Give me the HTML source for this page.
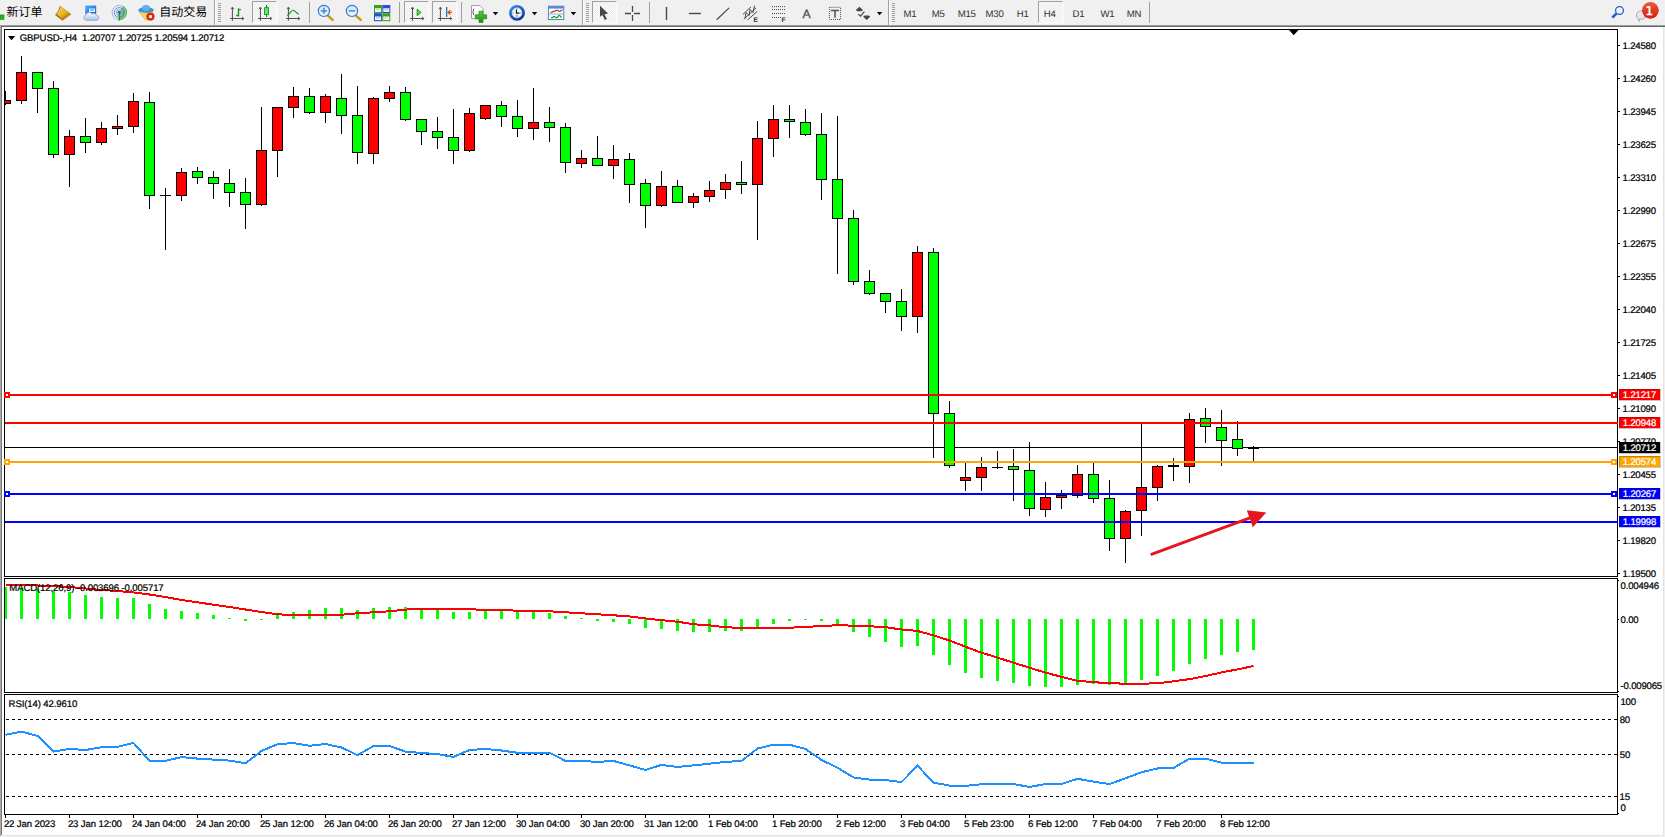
<!DOCTYPE html>
<html><head><meta charset="utf-8"><title>GBPUSD-,H4</title>
<style>
html,body{margin:0;padding:0;background:#fff}
body{text-rendering:geometricPrecision;width:1665px;height:837px;position:relative;overflow:hidden;font-family:"Liberation Sans","Noto Sans CJK SC",sans-serif;color:#000}
.cn{position:absolute;top:4.4px;font-size:12px;line-height:16px;white-space:nowrap;color:#000}
.tf{position:absolute;top:9px;font-size:9.6px;letter-spacing:-0.25px;line-height:12px;color:#303030;white-space:nowrap}
svg{position:absolute;left:0;top:0}
</style></head><body>

<svg width="1665" height="837" viewBox="0 0 1665 837" shape-rendering="crispEdges">
<rect x="0" y="0" width="1665" height="25" fill="#f0f0f0"/>
<rect x="0" y="25" width="1665" height="1" fill="#a0a0a0"/>
<rect x="0" y="26" width="1665" height="1" fill="#696969"/>
<rect x="0" y="26" width="1" height="810" fill="#a8a8a8"/>
<rect x="1" y="27" width="1" height="808" fill="#787878"/>
<rect x="1663" y="27" width="1" height="809" fill="#e3e3e3"/>
<rect x="1664" y="27" width="1" height="810" fill="#f0f0f0"/>
<rect x="2" y="835" width="1662" height="1" fill="#e3e3e3"/>
<rect x="0" y="836" width="1665" height="1" fill="#f0f0f0"/>
<rect x="4" y="29" width="1614" height="1" fill="#000"/>
<rect x="4" y="29" width="1" height="548" fill="#000"/>
<rect x="4" y="576" width="1614" height="1" fill="#000"/>
<rect x="1617" y="29" width="1" height="548" fill="#000"/>
<rect x="4" y="578" width="1614" height="1" fill="#000"/>
<rect x="4" y="578" width="1" height="115" fill="#000"/>
<rect x="4" y="692" width="1614" height="1" fill="#000"/>
<rect x="1617" y="578" width="1" height="115" fill="#000"/>
<rect x="4" y="694" width="1614" height="1" fill="#000"/>
<rect x="4" y="694" width="1" height="121" fill="#000"/>
<rect x="4" y="814" width="1614" height="1" fill="#000"/>
<rect x="1617" y="694" width="1" height="121" fill="#000"/>
<polygon points="1289,30 1298.5,30 1293.7,35.3" fill="#000" shape-rendering="auto"/>
<polygon points="8,36 15.2,36 11.6,40.2" fill="#000" shape-rendering="auto"/>
<rect x="1618" y="45" width="2" height="1" fill="#000"/>
<rect x="1618" y="78" width="2" height="1" fill="#000"/>
<rect x="1618" y="111" width="2" height="1" fill="#000"/>
<rect x="1618" y="144" width="2" height="1" fill="#000"/>
<rect x="1618" y="177" width="2" height="1" fill="#000"/>
<rect x="1618" y="210" width="2" height="1" fill="#000"/>
<rect x="1618" y="243" width="2" height="1" fill="#000"/>
<rect x="1618" y="276" width="2" height="1" fill="#000"/>
<rect x="1618" y="309" width="2" height="1" fill="#000"/>
<rect x="1618" y="342" width="2" height="1" fill="#000"/>
<rect x="1618" y="375" width="2" height="1" fill="#000"/>
<rect x="1618" y="408" width="2" height="1" fill="#000"/>
<rect x="1618" y="441" width="2" height="1" fill="#000"/>
<rect x="1618" y="474" width="2" height="1" fill="#000"/>
<rect x="1618" y="507" width="2" height="1" fill="#000"/>
<rect x="1618" y="540" width="2" height="1" fill="#000"/>
<rect x="1618" y="573" width="2" height="1" fill="#000"/>
<rect x="1618" y="580" width="1" height="1" fill="#000"/>
<rect x="1618" y="619" width="1" height="1" fill="#000"/>
<rect x="1618" y="691" width="1" height="1" fill="#000"/>
<rect x="1618" y="696" width="1" height="1" fill="#000"/>
<rect x="1618" y="813" width="1" height="1" fill="#000"/>
<rect x="5" y="815" width="1" height="3" fill="#000"/>
<rect x="69" y="815" width="1" height="3" fill="#000"/>
<rect x="133" y="815" width="1" height="3" fill="#000"/>
<rect x="197" y="815" width="1" height="3" fill="#000"/>
<rect x="261" y="815" width="1" height="3" fill="#000"/>
<rect x="325" y="815" width="1" height="3" fill="#000"/>
<rect x="389" y="815" width="1" height="3" fill="#000"/>
<rect x="453" y="815" width="1" height="3" fill="#000"/>
<rect x="517" y="815" width="1" height="3" fill="#000"/>
<rect x="581" y="815" width="1" height="3" fill="#000"/>
<rect x="645" y="815" width="1" height="3" fill="#000"/>
<rect x="709" y="815" width="1" height="3" fill="#000"/>
<rect x="773" y="815" width="1" height="3" fill="#000"/>
<rect x="837" y="815" width="1" height="3" fill="#000"/>
<rect x="901" y="815" width="1" height="3" fill="#000"/>
<rect x="965" y="815" width="1" height="3" fill="#000"/>
<rect x="1029" y="815" width="1" height="3" fill="#000"/>
<rect x="1093" y="815" width="1" height="3" fill="#000"/>
<rect x="1157" y="815" width="1" height="3" fill="#000"/>
<rect x="1221" y="815" width="1" height="3" fill="#000"/>
<line x1="6" y1="719.5" x2="1617" y2="719.5" stroke="#000" stroke-width="1" stroke-dasharray="3,3"/>
<line x1="6" y1="754.5" x2="1617" y2="754.5" stroke="#000" stroke-width="1" stroke-dasharray="3,3"/>
<line x1="6" y1="796.5" x2="1617" y2="796.5" stroke="#000" stroke-width="1" stroke-dasharray="3,3"/>
<clipPath id="cp"><rect x="5" y="30" width="1612" height="546"/></clipPath>
<g clip-path="url(#cp)">
<rect x="5" y="447" width="1612" height="1" fill="#000"/>
<rect x="5" y="91" width="1" height="14" fill="#000"/>
<rect x="0" y="100" width="11" height="4" fill="#000"/>
<rect x="1" y="101" width="9" height="2" fill="#ff0000"/>
<rect x="21" y="56" width="1" height="48" fill="#000"/>
<rect x="16" y="72" width="11" height="29" fill="#000"/>
<rect x="17" y="73" width="9" height="27" fill="#ff0000"/>
<rect x="37" y="72" width="1" height="41" fill="#000"/>
<rect x="32" y="72" width="11" height="17" fill="#000"/>
<rect x="33" y="73" width="9" height="15" fill="#00ff00"/>
<rect x="53" y="81" width="1" height="77" fill="#000"/>
<rect x="48" y="88" width="11" height="67" fill="#000"/>
<rect x="49" y="89" width="9" height="65" fill="#00ff00"/>
<rect x="69" y="130" width="1" height="57" fill="#000"/>
<rect x="64" y="136" width="11" height="19" fill="#000"/>
<rect x="65" y="137" width="9" height="17" fill="#ff0000"/>
<rect x="85" y="118" width="1" height="35" fill="#000"/>
<rect x="80" y="136" width="11" height="7" fill="#000"/>
<rect x="81" y="137" width="9" height="5" fill="#00ff00"/>
<rect x="101" y="122" width="1" height="23" fill="#000"/>
<rect x="96" y="128" width="11" height="15" fill="#000"/>
<rect x="97" y="129" width="9" height="13" fill="#ff0000"/>
<rect x="117" y="115" width="1" height="20" fill="#000"/>
<rect x="112" y="126" width="11" height="3" fill="#000"/>
<rect x="113" y="127" width="9" height="1" fill="#ff0000"/>
<rect x="133" y="93" width="1" height="40" fill="#000"/>
<rect x="128" y="101" width="11" height="26" fill="#000"/>
<rect x="129" y="102" width="9" height="24" fill="#ff0000"/>
<rect x="149" y="92" width="1" height="117" fill="#000"/>
<rect x="144" y="102" width="11" height="94" fill="#000"/>
<rect x="145" y="103" width="9" height="92" fill="#00ff00"/>
<rect x="165" y="188" width="1" height="62" fill="#000"/>
<rect x="160" y="195" width="11" height="1" fill="#000"/>
<rect x="181" y="168" width="1" height="33" fill="#000"/>
<rect x="176" y="172" width="11" height="24" fill="#000"/>
<rect x="177" y="173" width="9" height="22" fill="#ff0000"/>
<rect x="197" y="167" width="1" height="17" fill="#000"/>
<rect x="192" y="171" width="11" height="7" fill="#000"/>
<rect x="193" y="172" width="9" height="5" fill="#00ff00"/>
<rect x="213" y="171" width="1" height="28" fill="#000"/>
<rect x="208" y="177" width="11" height="7" fill="#000"/>
<rect x="209" y="178" width="9" height="5" fill="#00ff00"/>
<rect x="229" y="169" width="1" height="38" fill="#000"/>
<rect x="224" y="183" width="11" height="10" fill="#000"/>
<rect x="225" y="184" width="9" height="8" fill="#00ff00"/>
<rect x="245" y="178" width="1" height="51" fill="#000"/>
<rect x="240" y="192" width="11" height="13" fill="#000"/>
<rect x="241" y="193" width="9" height="11" fill="#00ff00"/>
<rect x="261" y="107" width="1" height="99" fill="#000"/>
<rect x="256" y="150" width="11" height="55" fill="#000"/>
<rect x="257" y="151" width="9" height="53" fill="#ff0000"/>
<rect x="277" y="107" width="1" height="70" fill="#000"/>
<rect x="272" y="107" width="11" height="44" fill="#000"/>
<rect x="273" y="108" width="9" height="42" fill="#ff0000"/>
<rect x="293" y="87" width="1" height="31" fill="#000"/>
<rect x="288" y="96" width="11" height="12" fill="#000"/>
<rect x="289" y="97" width="9" height="10" fill="#ff0000"/>
<rect x="309" y="88" width="1" height="26" fill="#000"/>
<rect x="304" y="96" width="11" height="17" fill="#000"/>
<rect x="305" y="97" width="9" height="15" fill="#00ff00"/>
<rect x="325" y="94" width="1" height="29" fill="#000"/>
<rect x="320" y="96" width="11" height="17" fill="#000"/>
<rect x="321" y="97" width="9" height="15" fill="#ff0000"/>
<rect x="341" y="74" width="1" height="60" fill="#000"/>
<rect x="336" y="98" width="11" height="18" fill="#000"/>
<rect x="337" y="99" width="9" height="16" fill="#00ff00"/>
<rect x="357" y="86" width="1" height="78" fill="#000"/>
<rect x="352" y="115" width="11" height="38" fill="#000"/>
<rect x="353" y="116" width="9" height="36" fill="#00ff00"/>
<rect x="373" y="97" width="1" height="67" fill="#000"/>
<rect x="368" y="98" width="11" height="56" fill="#000"/>
<rect x="369" y="99" width="9" height="54" fill="#ff0000"/>
<rect x="389" y="86" width="1" height="16" fill="#000"/>
<rect x="384" y="92" width="11" height="7" fill="#000"/>
<rect x="385" y="93" width="9" height="5" fill="#ff0000"/>
<rect x="405" y="87" width="1" height="34" fill="#000"/>
<rect x="400" y="92" width="11" height="28" fill="#000"/>
<rect x="401" y="93" width="9" height="26" fill="#00ff00"/>
<rect x="421" y="119" width="1" height="26" fill="#000"/>
<rect x="416" y="119" width="11" height="13" fill="#000"/>
<rect x="417" y="120" width="9" height="11" fill="#00ff00"/>
<rect x="437" y="117" width="1" height="32" fill="#000"/>
<rect x="432" y="131" width="11" height="7" fill="#000"/>
<rect x="433" y="132" width="9" height="5" fill="#00ff00"/>
<rect x="453" y="109" width="1" height="55" fill="#000"/>
<rect x="448" y="137" width="11" height="14" fill="#000"/>
<rect x="449" y="138" width="9" height="12" fill="#00ff00"/>
<rect x="469" y="108" width="1" height="44" fill="#000"/>
<rect x="464" y="113" width="11" height="38" fill="#000"/>
<rect x="465" y="114" width="9" height="36" fill="#ff0000"/>
<rect x="485" y="105" width="1" height="15" fill="#000"/>
<rect x="480" y="105" width="11" height="14" fill="#000"/>
<rect x="481" y="106" width="9" height="12" fill="#ff0000"/>
<rect x="501" y="101" width="1" height="26" fill="#000"/>
<rect x="496" y="105" width="11" height="12" fill="#000"/>
<rect x="497" y="106" width="9" height="10" fill="#00ff00"/>
<rect x="517" y="100" width="1" height="37" fill="#000"/>
<rect x="512" y="116" width="11" height="13" fill="#000"/>
<rect x="513" y="117" width="9" height="11" fill="#00ff00"/>
<rect x="533" y="88" width="1" height="52" fill="#000"/>
<rect x="528" y="122" width="11" height="7" fill="#000"/>
<rect x="529" y="123" width="9" height="5" fill="#ff0000"/>
<rect x="549" y="107" width="1" height="35" fill="#000"/>
<rect x="544" y="122" width="11" height="6" fill="#000"/>
<rect x="545" y="123" width="9" height="4" fill="#00ff00"/>
<rect x="565" y="123" width="1" height="50" fill="#000"/>
<rect x="560" y="127" width="11" height="36" fill="#000"/>
<rect x="561" y="128" width="9" height="34" fill="#00ff00"/>
<rect x="581" y="150" width="1" height="18" fill="#000"/>
<rect x="576" y="158" width="11" height="6" fill="#000"/>
<rect x="577" y="159" width="9" height="4" fill="#ff0000"/>
<rect x="597" y="136" width="1" height="30" fill="#000"/>
<rect x="592" y="158" width="11" height="8" fill="#000"/>
<rect x="593" y="159" width="9" height="6" fill="#00ff00"/>
<rect x="613" y="145" width="1" height="34" fill="#000"/>
<rect x="608" y="159" width="11" height="7" fill="#000"/>
<rect x="609" y="160" width="9" height="5" fill="#ff0000"/>
<rect x="629" y="153" width="1" height="50" fill="#000"/>
<rect x="624" y="159" width="11" height="26" fill="#000"/>
<rect x="625" y="160" width="9" height="24" fill="#00ff00"/>
<rect x="645" y="179" width="1" height="49" fill="#000"/>
<rect x="640" y="183" width="11" height="23" fill="#000"/>
<rect x="641" y="184" width="9" height="21" fill="#00ff00"/>
<rect x="661" y="171" width="1" height="36" fill="#000"/>
<rect x="656" y="186" width="11" height="20" fill="#000"/>
<rect x="657" y="187" width="9" height="18" fill="#ff0000"/>
<rect x="677" y="180" width="1" height="23" fill="#000"/>
<rect x="672" y="186" width="11" height="17" fill="#000"/>
<rect x="673" y="187" width="9" height="15" fill="#00ff00"/>
<rect x="693" y="193" width="1" height="15" fill="#000"/>
<rect x="688" y="196" width="11" height="7" fill="#000"/>
<rect x="689" y="197" width="9" height="5" fill="#ff0000"/>
<rect x="709" y="181" width="1" height="21" fill="#000"/>
<rect x="704" y="190" width="11" height="7" fill="#000"/>
<rect x="705" y="191" width="9" height="5" fill="#ff0000"/>
<rect x="725" y="174" width="1" height="25" fill="#000"/>
<rect x="720" y="182" width="11" height="8" fill="#000"/>
<rect x="721" y="183" width="9" height="6" fill="#ff0000"/>
<rect x="741" y="161" width="1" height="33" fill="#000"/>
<rect x="736" y="182" width="11" height="3" fill="#000"/>
<rect x="737" y="183" width="9" height="1" fill="#00ff00"/>
<rect x="757" y="121" width="1" height="119" fill="#000"/>
<rect x="752" y="138" width="11" height="47" fill="#000"/>
<rect x="753" y="139" width="9" height="45" fill="#ff0000"/>
<rect x="773" y="105" width="1" height="52" fill="#000"/>
<rect x="768" y="119" width="11" height="20" fill="#000"/>
<rect x="769" y="120" width="9" height="18" fill="#ff0000"/>
<rect x="789" y="105" width="1" height="33" fill="#000"/>
<rect x="784" y="119" width="11" height="3" fill="#000"/>
<rect x="785" y="120" width="9" height="1" fill="#00ff00"/>
<rect x="805" y="109" width="1" height="27" fill="#000"/>
<rect x="800" y="122" width="11" height="13" fill="#000"/>
<rect x="801" y="123" width="9" height="11" fill="#00ff00"/>
<rect x="821" y="113" width="1" height="87" fill="#000"/>
<rect x="816" y="134" width="11" height="46" fill="#000"/>
<rect x="817" y="135" width="9" height="44" fill="#00ff00"/>
<rect x="837" y="116" width="1" height="158" fill="#000"/>
<rect x="832" y="179" width="11" height="40" fill="#000"/>
<rect x="833" y="180" width="9" height="38" fill="#00ff00"/>
<rect x="853" y="210" width="1" height="75" fill="#000"/>
<rect x="848" y="218" width="11" height="64" fill="#000"/>
<rect x="849" y="219" width="9" height="62" fill="#00ff00"/>
<rect x="869" y="270" width="1" height="25" fill="#000"/>
<rect x="864" y="281" width="11" height="13" fill="#000"/>
<rect x="865" y="282" width="9" height="11" fill="#00ff00"/>
<rect x="885" y="293" width="1" height="20" fill="#000"/>
<rect x="880" y="293" width="11" height="9" fill="#000"/>
<rect x="881" y="294" width="9" height="7" fill="#00ff00"/>
<rect x="901" y="289" width="1" height="42" fill="#000"/>
<rect x="896" y="301" width="11" height="16" fill="#000"/>
<rect x="897" y="302" width="9" height="14" fill="#00ff00"/>
<rect x="917" y="246" width="1" height="87" fill="#000"/>
<rect x="912" y="252" width="11" height="65" fill="#000"/>
<rect x="913" y="253" width="9" height="63" fill="#ff0000"/>
<rect x="933" y="248" width="1" height="210" fill="#000"/>
<rect x="928" y="252" width="11" height="162" fill="#000"/>
<rect x="929" y="253" width="9" height="160" fill="#00ff00"/>
<rect x="949" y="401" width="1" height="67" fill="#000"/>
<rect x="944" y="413" width="11" height="53" fill="#000"/>
<rect x="945" y="414" width="9" height="51" fill="#00ff00"/>
<rect x="965" y="463" width="1" height="28" fill="#000"/>
<rect x="960" y="477" width="11" height="4" fill="#000"/>
<rect x="961" y="478" width="9" height="2" fill="#ff0000"/>
<rect x="981" y="457" width="1" height="34" fill="#000"/>
<rect x="976" y="467" width="11" height="11" fill="#000"/>
<rect x="977" y="468" width="9" height="9" fill="#ff0000"/>
<rect x="997" y="451" width="1" height="18" fill="#000"/>
<rect x="992" y="467" width="11" height="1" fill="#000"/>
<rect x="1013" y="449" width="1" height="52" fill="#000"/>
<rect x="1008" y="466" width="11" height="4" fill="#000"/>
<rect x="1009" y="467" width="9" height="2" fill="#00ff00"/>
<rect x="1029" y="442" width="1" height="74" fill="#000"/>
<rect x="1024" y="470" width="11" height="39" fill="#000"/>
<rect x="1025" y="471" width="9" height="37" fill="#00ff00"/>
<rect x="1045" y="482" width="1" height="35" fill="#000"/>
<rect x="1040" y="497" width="11" height="13" fill="#000"/>
<rect x="1041" y="498" width="9" height="11" fill="#ff0000"/>
<rect x="1061" y="490" width="1" height="19" fill="#000"/>
<rect x="1056" y="495" width="11" height="3" fill="#000"/>
<rect x="1057" y="496" width="9" height="1" fill="#ff0000"/>
<rect x="1077" y="465" width="1" height="33" fill="#000"/>
<rect x="1072" y="474" width="11" height="22" fill="#000"/>
<rect x="1073" y="475" width="9" height="20" fill="#ff0000"/>
<rect x="1093" y="463" width="1" height="40" fill="#000"/>
<rect x="1088" y="474" width="11" height="25" fill="#000"/>
<rect x="1089" y="475" width="9" height="23" fill="#00ff00"/>
<rect x="1109" y="480" width="1" height="71" fill="#000"/>
<rect x="1104" y="498" width="11" height="41" fill="#000"/>
<rect x="1105" y="499" width="9" height="39" fill="#00ff00"/>
<rect x="1125" y="510" width="1" height="53" fill="#000"/>
<rect x="1120" y="511" width="11" height="28" fill="#000"/>
<rect x="1121" y="512" width="9" height="26" fill="#ff0000"/>
<rect x="1141" y="424" width="1" height="112" fill="#000"/>
<rect x="1136" y="487" width="11" height="24" fill="#000"/>
<rect x="1137" y="488" width="9" height="22" fill="#ff0000"/>
<rect x="1157" y="465" width="1" height="36" fill="#000"/>
<rect x="1152" y="466" width="11" height="22" fill="#000"/>
<rect x="1153" y="467" width="9" height="20" fill="#ff0000"/>
<rect x="1173" y="458" width="1" height="23" fill="#000"/>
<rect x="1168" y="465" width="11" height="2" fill="#000"/>
<rect x="1189" y="413" width="1" height="70" fill="#000"/>
<rect x="1184" y="419" width="11" height="48" fill="#000"/>
<rect x="1185" y="420" width="9" height="46" fill="#ff0000"/>
<rect x="1205" y="408" width="1" height="35" fill="#000"/>
<rect x="1200" y="418" width="11" height="9" fill="#000"/>
<rect x="1201" y="419" width="9" height="7" fill="#00ff00"/>
<rect x="1221" y="410" width="1" height="56" fill="#000"/>
<rect x="1216" y="427" width="11" height="14" fill="#000"/>
<rect x="1217" y="428" width="9" height="12" fill="#00ff00"/>
<rect x="1237" y="421" width="1" height="35" fill="#000"/>
<rect x="1232" y="439" width="11" height="10" fill="#000"/>
<rect x="1233" y="440" width="9" height="8" fill="#00ff00"/>
<rect x="1253" y="446" width="1" height="15" fill="#000"/>
<rect x="1248" y="448" width="11" height="1" fill="#000"/>
</g>
<rect x="5" y="394" width="1612" height="2" fill="#ff0000"/>
<rect x="5" y="422" width="1613" height="2" fill="#ff0000"/>
<rect x="5" y="461" width="1612" height="2" fill="#ffa500"/>
<rect x="5" y="493" width="1612" height="2" fill="#0000ff"/>
<rect x="5" y="521" width="1613" height="2" fill="#0000ff"/>
<rect x="4" y="392" width="6" height="6" fill="#ff0000"/>
<rect x="6" y="394" width="2" height="2" fill="#fff"/>
<rect x="1611" y="392" width="6" height="6" fill="#ff0000"/>
<rect x="1613" y="394" width="2" height="2" fill="#fff"/>
<rect x="4" y="459" width="6" height="6" fill="#ffa500"/>
<rect x="6" y="461" width="2" height="2" fill="#fff"/>
<rect x="1611" y="459" width="6" height="6" fill="#ffa500"/>
<rect x="1613" y="461" width="2" height="2" fill="#fff"/>
<rect x="4" y="491" width="6" height="6" fill="#0000ff"/>
<rect x="6" y="493" width="2" height="2" fill="#fff"/>
<rect x="1611" y="491" width="6" height="6" fill="#0000ff"/>
<rect x="1613" y="493" width="2" height="2" fill="#fff"/>
<g shape-rendering="auto"><line x1="1150.7" y1="554.6" x2="1252" y2="517.2" stroke="#e8141e" stroke-width="2.9"/><polygon points="1246.8,510.2 1266.3,512.5 1252.8,527.2" fill="#e8141e"/></g>
<clipPath id="cm"><rect x="5" y="579" width="1612" height="113"/></clipPath><g clip-path="url(#cm)">
<rect x="4" y="587" width="3" height="32" fill="#00ff00"/>
<rect x="20" y="588" width="3" height="31" fill="#00ff00"/>
<rect x="36" y="589" width="3" height="30" fill="#00ff00"/>
<rect x="52" y="591" width="3" height="28" fill="#00ff00"/>
<rect x="68" y="592" width="3" height="27" fill="#00ff00"/>
<rect x="84" y="595" width="3" height="24" fill="#00ff00"/>
<rect x="100" y="597" width="3" height="22" fill="#00ff00"/>
<rect x="116" y="598" width="3" height="21" fill="#00ff00"/>
<rect x="132" y="598" width="3" height="21" fill="#00ff00"/>
<rect x="148" y="604" width="3" height="15" fill="#00ff00"/>
<rect x="164" y="609" width="3" height="10" fill="#00ff00"/>
<rect x="180" y="611" width="3" height="8" fill="#00ff00"/>
<rect x="196" y="613" width="3" height="6" fill="#00ff00"/>
<rect x="212" y="615" width="3" height="4" fill="#00ff00"/>
<rect x="228" y="618" width="3" height="1" fill="#00ff00"/>
<rect x="244" y="619" width="3" height="2" fill="#00ff00"/>
<rect x="260" y="619" width="3" height="1" fill="#00ff00"/>
<rect x="276" y="614" width="3" height="5" fill="#00ff00"/>
<rect x="292" y="612" width="3" height="7" fill="#00ff00"/>
<rect x="308" y="610" width="3" height="9" fill="#00ff00"/>
<rect x="324" y="608" width="3" height="11" fill="#00ff00"/>
<rect x="340" y="608" width="3" height="11" fill="#00ff00"/>
<rect x="356" y="610" width="3" height="9" fill="#00ff00"/>
<rect x="372" y="608" width="3" height="11" fill="#00ff00"/>
<rect x="388" y="607" width="3" height="12" fill="#00ff00"/>
<rect x="404" y="607" width="3" height="12" fill="#00ff00"/>
<rect x="420" y="609" width="3" height="10" fill="#00ff00"/>
<rect x="436" y="610" width="3" height="9" fill="#00ff00"/>
<rect x="452" y="612" width="3" height="7" fill="#00ff00"/>
<rect x="468" y="612" width="3" height="7" fill="#00ff00"/>
<rect x="484" y="610" width="3" height="9" fill="#00ff00"/>
<rect x="500" y="610" width="3" height="9" fill="#00ff00"/>
<rect x="516" y="612" width="3" height="7" fill="#00ff00"/>
<rect x="532" y="612" width="3" height="7" fill="#00ff00"/>
<rect x="548" y="613" width="3" height="6" fill="#00ff00"/>
<rect x="564" y="616" width="3" height="3" fill="#00ff00"/>
<rect x="580" y="618" width="3" height="1" fill="#00ff00"/>
<rect x="596" y="619" width="3" height="2" fill="#00ff00"/>
<rect x="612" y="619" width="3" height="3" fill="#00ff00"/>
<rect x="628" y="619" width="3" height="5" fill="#00ff00"/>
<rect x="644" y="619" width="3" height="9" fill="#00ff00"/>
<rect x="660" y="619" width="3" height="10" fill="#00ff00"/>
<rect x="676" y="619" width="3" height="12" fill="#00ff00"/>
<rect x="692" y="619" width="3" height="13" fill="#00ff00"/>
<rect x="708" y="619" width="3" height="13" fill="#00ff00"/>
<rect x="724" y="619" width="3" height="12" fill="#00ff00"/>
<rect x="740" y="619" width="3" height="12" fill="#00ff00"/>
<rect x="756" y="619" width="3" height="8" fill="#00ff00"/>
<rect x="772" y="619" width="3" height="5" fill="#00ff00"/>
<rect x="788" y="619" width="3" height="2" fill="#00ff00"/>
<rect x="804" y="619" width="3" height="1" fill="#00ff00"/>
<rect x="820" y="619" width="3" height="2" fill="#00ff00"/>
<rect x="836" y="619" width="3" height="6" fill="#00ff00"/>
<rect x="852" y="619" width="3" height="13" fill="#00ff00"/>
<rect x="868" y="619" width="3" height="18" fill="#00ff00"/>
<rect x="884" y="619" width="3" height="23" fill="#00ff00"/>
<rect x="900" y="619" width="3" height="28" fill="#00ff00"/>
<rect x="916" y="619" width="3" height="27" fill="#00ff00"/>
<rect x="932" y="619" width="3" height="36" fill="#00ff00"/>
<rect x="948" y="619" width="3" height="46" fill="#00ff00"/>
<rect x="964" y="619" width="3" height="54" fill="#00ff00"/>
<rect x="980" y="619" width="3" height="59" fill="#00ff00"/>
<rect x="996" y="619" width="3" height="62" fill="#00ff00"/>
<rect x="1012" y="619" width="3" height="64" fill="#00ff00"/>
<rect x="1028" y="619" width="3" height="67" fill="#00ff00"/>
<rect x="1044" y="619" width="3" height="68" fill="#00ff00"/>
<rect x="1060" y="619" width="3" height="68" fill="#00ff00"/>
<rect x="1076" y="619" width="3" height="66" fill="#00ff00"/>
<rect x="1092" y="619" width="3" height="65" fill="#00ff00"/>
<rect x="1108" y="619" width="3" height="66" fill="#00ff00"/>
<rect x="1124" y="619" width="3" height="64" fill="#00ff00"/>
<rect x="1140" y="619" width="3" height="61" fill="#00ff00"/>
<rect x="1156" y="619" width="3" height="57" fill="#00ff00"/>
<rect x="1172" y="619" width="3" height="52" fill="#00ff00"/>
<rect x="1188" y="619" width="3" height="45" fill="#00ff00"/>
<rect x="1204" y="619" width="3" height="40" fill="#00ff00"/>
<rect x="1220" y="619" width="3" height="36" fill="#00ff00"/>
<rect x="1236" y="619" width="3" height="33" fill="#00ff00"/>
<rect x="1252" y="619" width="3" height="31" fill="#00ff00"/>
<polyline points="5.5,585 21.5,585 37.5,585.5 53.5,586 69.5,587 85.5,588.5 101.5,590 117.5,591 133.5,592.5 149.5,594.5 165.5,597 181.5,600 197.5,602.3 213.5,604.7 229.5,607 245.5,609.5 261.5,612 277.5,614.3 293.5,615 309.5,615 325.5,615 341.5,614.7 357.5,613.3 373.5,612.3 389.5,611.3 405.5,609.6 421.5,608.8 437.5,608.8 453.5,608.8 469.5,609.3 485.5,609.8 501.5,609.8 517.5,610.8 533.5,611 549.5,611.3 565.5,612.3 581.5,613.3 597.5,614.3 613.5,615.3 629.5,616.4 645.5,618.4 661.5,620.2 677.5,621.7 693.5,624.3 709.5,625.3 725.5,627.3 741.5,627.8 757.5,627.8 773.5,627.8 789.5,627.8 805.5,626.8 821.5,626.2 837.5,625.1 853.5,625.7 869.5,626.2 885.5,627.2 901.5,629.5 917.5,630.9 933.5,635.4 949.5,640.5 965.5,646.7 981.5,652.7 997.5,657.6 1013.5,662.7 1029.5,667.7 1045.5,672.7 1061.5,676.8 1077.5,680.8 1093.5,682.2 1109.5,683.2 1125.5,683.7 1141.5,683.7 1157.5,683.3 1173.5,681.3 1189.5,679.1 1205.5,676.1 1221.5,672.4 1237.5,669.4 1253.5,666" fill="none" stroke="#ff0000" stroke-width="2"/>
</g>
<clipPath id="cr"><rect x="5" y="695" width="1612" height="119"/></clipPath><g clip-path="url(#cr)">
<polyline points="5.5,734.9 21.5,731.6 37.5,735.9 53.5,751.6 69.5,749 85.5,750 101.5,747.3 117.5,746.8 133.5,743 149.5,760.9 165.5,760.9 181.5,757.1 197.5,758.6 213.5,759.6 229.5,760.6 245.5,763.2 261.5,751 277.5,744.2 293.5,743 309.5,745.8 325.5,744 341.5,747.5 357.5,755.1 373.5,746 389.5,746 405.5,751.6 421.5,753 437.5,754.1 453.5,756.9 469.5,750 485.5,749 501.5,750.5 517.5,752.8 533.5,752.8 549.5,752.8 565.5,760.9 581.5,760.9 597.5,761.9 613.5,760.9 629.5,765.4 645.5,770 661.5,764.9 677.5,766.9 693.5,765.4 709.5,763.7 725.5,761.9 741.5,760.9 757.5,748.5 773.5,744.7 789.5,744.7 805.5,749 821.5,760 837.5,767.7 853.5,777.5 869.5,779.6 885.5,780.1 901.5,782.1 917.5,765.7 933.5,782.6 949.5,785.6 965.5,785.9 981.5,784.3 997.5,784.1 1013.5,784.1 1029.5,786.9 1045.5,784.1 1061.5,784.1 1077.5,778.8 1093.5,781.6 1109.5,784.1 1125.5,778.3 1141.5,772.2 1157.5,768.5 1173.5,768 1189.5,758.6 1205.5,758.6 1221.5,762.7 1237.5,762.7 1253.5,762.7" fill="none" stroke="#1e90ff" stroke-width="2"/>
</g>
</svg>
<svg width="1665" height="837" viewBox="0 0 1665 837" font-family="Liberation Sans, sans-serif" font-size="9.6" letter-spacing="-0.2" fill="#000" stroke="#000" stroke-width="0.22" style="text-rendering:geometricPrecision">
<text x="19.8" y="41.00" letter-spacing="-0.145">GBPUSD-,H4&#160; 1.20707 1.20725 1.20594 1.20712</text>
<text x="9.3" y="591.10" letter-spacing="-0.125">MACD(12,26,9) -0.003696 -0.005717</text>
<text x="8.6" y="706.70" letter-spacing="-0.12">RSI(14) 42.9610</text>
<text x="1622.6" y="48.80" >1.24580</text>
<text x="1622.6" y="81.80" >1.24260</text>
<text x="1622.6" y="114.80" >1.23945</text>
<text x="1622.6" y="147.80" >1.23625</text>
<text x="1622.6" y="180.80" >1.23310</text>
<text x="1622.6" y="213.80" >1.22990</text>
<text x="1622.6" y="246.80" >1.22675</text>
<text x="1622.6" y="279.80" >1.22355</text>
<text x="1622.6" y="312.80" >1.22040</text>
<text x="1622.6" y="345.80" >1.21725</text>
<text x="1622.6" y="378.80" >1.21405</text>
<text x="1622.6" y="411.80" >1.21090</text>
<text x="1622.6" y="444.80" >1.20770</text>
<text x="1622.6" y="477.80" >1.20455</text>
<text x="1622.6" y="510.80" >1.20135</text>
<text x="1622.6" y="543.80" >1.19820</text>
<text x="1622.6" y="576.80" >1.19500</text>
<text x="1620.6" y="589.00" >0.004946</text>
<text x="1620.6" y="622.70" >0.00</text>
<text x="1620.6" y="688.60" >-0.009065</text>
<text x="1620.4" y="704.70" >100</text>
<text x="1619.7" y="722.70" >80</text>
<text x="1619.8" y="758.00" >50</text>
<text x="1619.6" y="800.00" >15</text>
<text x="1620.6" y="810.70" >0</text>
<text x="3.9" y="826.70" letter-spacing="-0.13">22 Jan 2023</text>
<text x="67.9" y="826.70" letter-spacing="-0.13">23 Jan 12:00</text>
<text x="131.9" y="826.70" letter-spacing="-0.13">24 Jan 04:00</text>
<text x="195.9" y="826.70" letter-spacing="-0.13">24 Jan 20:00</text>
<text x="259.9" y="826.70" letter-spacing="-0.13">25 Jan 12:00</text>
<text x="323.9" y="826.70" letter-spacing="-0.13">26 Jan 04:00</text>
<text x="387.9" y="826.70" letter-spacing="-0.13">26 Jan 20:00</text>
<text x="451.9" y="826.70" letter-spacing="-0.13">27 Jan 12:00</text>
<text x="515.9" y="826.70" letter-spacing="-0.13">30 Jan 04:00</text>
<text x="579.9" y="826.70" letter-spacing="-0.13">30 Jan 20:00</text>
<text x="643.9" y="826.70" letter-spacing="-0.13">31 Jan 12:00</text>
<text x="707.9" y="826.70" letter-spacing="-0.13">1 Feb 04:00</text>
<text x="771.9" y="826.70" letter-spacing="-0.13">1 Feb 20:00</text>
<text x="835.9" y="826.70" letter-spacing="-0.13">2 Feb 12:00</text>
<text x="899.9" y="826.70" letter-spacing="-0.13">3 Feb 04:00</text>
<text x="963.9" y="826.70" letter-spacing="-0.13">5 Feb 23:00</text>
<text x="1027.9" y="826.70" letter-spacing="-0.13">6 Feb 12:00</text>
<text x="1091.9" y="826.70" letter-spacing="-0.13">7 Feb 04:00</text>
<text x="1155.9" y="826.70" letter-spacing="-0.13">7 Feb 20:00</text>
<text x="1219.9" y="826.70" letter-spacing="-0.13">8 Feb 12:00</text>
<rect x="1619" y="389" width="41" height="11" fill="#ff0000" shape-rendering="crispEdges"/>
<text x="1622.8" y="398.20" fill="#fff" stroke="#fff">1.21217</text>
<rect x="1619" y="417" width="41" height="11" fill="#ff0000" shape-rendering="crispEdges"/>
<text x="1622.8" y="426.20" fill="#fff" stroke="#fff">1.20948</text>
<rect x="1619" y="442" width="41" height="11" fill="#000" shape-rendering="crispEdges"/>
<text x="1622.8" y="451.20" fill="#fff" stroke="#fff">1.20712</text>
<rect x="1619" y="456" width="41" height="11" fill="#ffa500" shape-rendering="crispEdges"/>
<text x="1622.8" y="465.20" fill="#fff" stroke="#fff">1.20574</text>
<rect x="1619" y="488" width="41" height="11" fill="#0000ff" shape-rendering="crispEdges"/>
<text x="1622.8" y="497.20" fill="#fff" stroke="#fff">1.20267</text>
<rect x="1619" y="516" width="41" height="11" fill="#0000ff" shape-rendering="crispEdges"/>
<text x="1622.8" y="525.20" fill="#fff" stroke="#fff">1.19998</text>
</svg>
<svg width="1665" height="25" viewBox="0 0 1665 25" style="position:absolute;left:0;top:0">
<defs>
<linearGradient id="gGold" x1="0" y1="0" x2="1" y2="1"><stop offset="0" stop-color="#f6dc6a"/><stop offset="0.6" stop-color="#e3ae1c"/><stop offset="1" stop-color="#a86c10"/></linearGradient>
<linearGradient id="gBlue" x1="0" y1="0" x2="1" y2="1"><stop offset="0" stop-color="#4cb4ff"/><stop offset="1" stop-color="#0a5cc8"/></linearGradient>
<linearGradient id="gClk" x1="0" y1="0" x2="0.6" y2="1"><stop offset="0" stop-color="#2c8cf0"/><stop offset="1" stop-color="#0a3c98"/></linearGradient>
<linearGradient id="gBadge" x1="0" y1="0" x2="0" y2="1"><stop offset="0" stop-color="#ea5a3e"/><stop offset="1" stop-color="#d81c0c"/></linearGradient>
<linearGradient id="gCloud" x1="0" y1="0" x2="0" y2="1"><stop offset="0" stop-color="#ffffff"/><stop offset="1" stop-color="#a8c0e8"/></linearGradient>
<linearGradient id="gGreen" x1="0" y1="0" x2="0" y2="1"><stop offset="0" stop-color="#5ad23c"/><stop offset="1" stop-color="#1c8c14"/></linearGradient>
<linearGradient id="gLens" x1="0" y1="0" x2="0" y2="1"><stop offset="0" stop-color="#c8e6fa"/><stop offset="1" stop-color="#eef8ff"/></linearGradient>
<pattern id="chk" width="2" height="2" patternUnits="userSpaceOnUse"><rect width="2" height="2" fill="#fbfbfb"/><rect width="1" height="1" fill="#ececec"/><rect x="1" y="1" width="1" height="1" fill="#ececec"/></pattern>
<g id="axes" stroke="#505050" stroke-width="1.05" fill="none"><path d="M2.4,7.2V20.8M0,18.5H13.6"/><path d="M0.9,9.2L2.4,7.1L3.9,9.2M11.9,17L13.9,18.5L11.9,20" stroke-width="0.9"/></g>
<g id="dd"><polygon points="0,0 5.4,0 2.7,3.3" fill="#000"/></g>
<g id="grip" fill="#a0a0a0"><rect y="3" width="3" height="1"/><rect y="5" width="3" height="1"/><rect y="7" width="3" height="1"/><rect y="9" width="3" height="1"/><rect y="11" width="3" height="1"/><rect y="13" width="3" height="1"/><rect y="15" width="3" height="1"/><rect y="17" width="3" height="1"/><rect y="19" width="3" height="1"/><rect y="21" width="3" height="1"/></g>
<g id="abox"><rect x="0" y="0" width="25" height="22" fill="url(#chk)"/><rect x="0" y="0" width="25" height="1" fill="#a0a0a0"/><rect x="0" y="0" width="1" height="22" fill="#a0a0a0"/><rect x="0" y="21.5" width="25" height="1" fill="#fff"/><rect x="24.5" y="0" width="1" height="22" fill="#fff"/></g>
</defs>
<!-- new order green stub -->
<rect x="0" y="15" width="4" height="4.3" fill="#18c018" stroke="#0a780a" stroke-width="0.6"/>
<!-- book icon -->
<path d="M60.3,6L71.3,14.3L62.6,20.8L55,15C57,12.8 58.8,10.2 59.6,6.4z" fill="#a8700f"/>
<path d="M60.7,6.4L69.8,13.2L62.2,18.6L56.6,14.3C58.2,12.1 59.8,9.6 60.7,6.4z" fill="url(#gGold)"/>
<path d="M62.3,19.7L70.6,13.9" stroke="#e0c070" stroke-width="0.5" fill="none"/>
<!-- computer + cloud -->
<rect x="85.2" y="5.5" width="11" height="9" rx="1" fill="url(#gBlue)"/>
<rect x="89" y="8.5" width="6" height="3.5" fill="#e8f4ff"/><rect x="90" y="9.5" width="4" height="1" fill="#3c8ce0"/>
<path d="M85.5,20.3a3,3 0 0 1 0.5,-5.6a3.4,3.4 0 0 1 6,-0.8a3,3 0 0 1 4.6,1.6a2.4,2.4 0 0 1 -0.4,4.8z" fill="url(#gCloud)" stroke="#88a4d4" stroke-width="0.8"/>
<!-- signal icon -->
<path d="M119.2,12.5L123,6.1A7.4,7.4 0 0 1 119.2,19.9z" fill="#4cb050" opacity="0.7"/>
<g fill="none" stroke-width="1">
<circle cx="119.2" cy="12.5" r="7.1" stroke="#9cb4e4"/>
<circle cx="119.2" cy="12.5" r="4.9" stroke="#6a8cdc"/>
<circle cx="119.2" cy="12.5" r="2.9" stroke="#86a4e4"/>
<path d="M123,6.4A7.1,7.1 0 0 1 119.2,19.6" stroke="#58b860"/>
<path d="M121.7,8.3A4.9,4.9 0 0 1 119.2,17.4" stroke="#3ca048"/>
</g>
<circle cx="119.2" cy="12.3" r="1.6" fill="#2a5cd0"/>
<rect x="118.6" y="13" width="1.4" height="7.6" fill="#1a9c1a"/>
<!-- autotrading icon -->
<polygon points="139,11.5 153,11.5 149,20 145.5,20" fill="#f4d858" stroke="#d8a820" stroke-width="0.6"/>
<ellipse cx="146" cy="10" rx="7.8" ry="2.8" fill="#3c94d8"/>
<ellipse cx="146" cy="8" rx="4" ry="3" fill="#5cb0ec"/>
<circle cx="150.5" cy="16.6" r="4.1" fill="#e02810"/><rect x="149.1" y="15.2" width="2.8" height="2.8" fill="#fff"/>
<!-- separator + grip -->
<rect x="214" y="0" width="1" height="25" fill="#a0a0a0"/><rect x="215" y="0" width="1" height="25" fill="#fff"/>
<use href="#grip" x="218" y="0"/>
<!-- bar chart icon -->
<use href="#axes" x="230" y="0"/>
<path d="M238.5,8.3V16.5M238.5,9.6H240.9M236.2,15.5H238.5" stroke="#149614" stroke-width="1.4" fill="none"/>
<!-- candle active -->
<use href="#abox" x="252" y="1"/>
<use href="#axes" x="258" y="0"/>
<rect x="266" y="5" width="1.2" height="12" fill="#0a960a"/><rect x="264.6" y="7.7" width="3.8" height="6.9" fill="#66e878" stroke="#0a960a" stroke-width="0.9"/>
<!-- line chart icon -->
<use href="#axes" x="286" y="0"/>
<path d="M287.2,15.6C289.6,14 291.4,10.3 293.2,10.3C295.2,10.3 296.4,13.4 298.9,14.3" stroke="#149614" stroke-width="1.15" fill="none"/>
<rect x="309" y="2" width="1" height="21" fill="#a0a0a0"/>
<!-- zoom in -->
<line x1="327.6" y1="15.4" x2="332.6" y2="19.9" stroke="#c89c14" stroke-width="2.6" stroke-linecap="round"/>
<circle cx="323.9" cy="10.9" r="5.6" fill="url(#gLens)" stroke="#3c78d2" stroke-width="1.2"/>
<path d="M320.8,10.9H327M323.9,7.8V14" stroke="#3c8cc8" stroke-width="1.5"/>
<!-- zoom out -->
<line x1="355.7" y1="15.4" x2="360.7" y2="19.9" stroke="#c89c14" stroke-width="2.6" stroke-linecap="round"/>
<circle cx="352" cy="10.9" r="5.6" fill="url(#gLens)" stroke="#3c78d2" stroke-width="1.2"/>
<path d="M348.9,10.9H355.1" stroke="#3c8cc8" stroke-width="1.5"/>
<!-- grid icon -->
<rect x="374" y="5" width="8" height="8" fill="#3ca01e"/><rect x="382.3" y="5" width="8" height="8" fill="#2850c8"/>
<rect x="374" y="13.2" width="8" height="8" fill="#2850c8"/><rect x="382.3" y="13.2" width="8" height="8" fill="#3ca01e"/>
<rect x="375" y="8.3" width="6" height="3.6" fill="#fff"/><rect x="383.3" y="8.3" width="6" height="3.6" fill="#fff"/>
<rect x="375" y="16.5" width="6" height="3.6" fill="#fff"/><rect x="383.3" y="16.5" width="6" height="3.6" fill="#fff"/>
<rect x="376" y="9.3" width="4" height="0.9" fill="#8cd070"/><rect x="384.3" y="9.3" width="4" height="0.9" fill="#8ca8e8"/>
<rect x="376" y="17.5" width="4" height="0.9" fill="#8ca8e8"/><rect x="384.3" y="17.5" width="4" height="0.9" fill="#8cd070"/>
<rect x="399" y="2" width="1" height="21" fill="#a0a0a0"/>
<!-- scroll active -->
<use href="#abox" x="404" y="1"/>
<use href="#axes" x="410.1" y="0"/>
<polygon points="417.2,9.1 417.2,15.7 421,12.4" fill="#5ce06c" stroke="#10a010" stroke-width="1"/>
<!-- shift active -->
<use href="#abox" x="432" y="1"/>
<use href="#axes" x="438" y="0"/>
<rect x="446" y="6.9" width="1.3" height="10" fill="#1478b4"/>
<path d="M452,12.4H448.2M450.3,10.2L448,12.4L450.3,14.6" stroke="#e05000" stroke-width="1.3" fill="none"/>
<rect x="461" y="2" width="1" height="21" fill="#a0a0a0"/>
<!-- indicators -->
<path d="M471.5,5.6H480L483,8.6V18.6H471.5z" fill="#fff" stroke="#909090" stroke-width="0.9"/>
<path d="M474.3,8.5C473,9 473.5,11 473,12C473.5,13 473,15 474.3,15.5" stroke="#504030" stroke-width="0.9" fill="none"/>
<path d="M479,11.2H483V14.8H486.6V18.8H483V22.4H479V18.8H475.4V14.8H479z" fill="url(#gGreen)" stroke="#148c14" stroke-width="0.7"/>
<use href="#dd" x="492.8" y="11.9"/>
<!-- clock -->
<circle cx="517" cy="12.9" r="6.5" fill="#f4f6fa" stroke="url(#gClk)" stroke-width="2.8"/>
<circle cx="517" cy="12.9" r="5" fill="none" stroke="#c0c8d4" stroke-width="0.6"/>
<g fill="#606870"><rect x="516.6" y="8.6" width="0.8" height="1"/><rect x="516.6" y="16.2" width="0.8" height="1"/><rect x="512.7" y="12.5" width="1" height="0.8"/><rect x="520.3" y="12.5" width="1" height="0.8"/></g>
<path d="M516.4,9.6V13.1H519.4" stroke="#101010" stroke-width="1.1" fill="none"/>
<rect x="515.6" y="15.3" width="2.4" height="0.9" fill="#5aa0f0"/>
<use href="#dd" x="531.9" y="11.9"/>
<!-- template -->
<rect x="548.4" y="6.2" width="15.4" height="13.4" fill="#fff" stroke="#3c78c8" stroke-width="0.9"/>
<rect x="548.4" y="6.2" width="15.4" height="2.4" fill="#4c8cd8"/>
<rect x="548.4" y="13.6" width="15.4" height="0.8" fill="#6c9cdc"/>
<path d="M550.3,12.2H552L553.5,11.2H555L556.4,10.2H557.6L558.8,11.2H560L561.4,10.2H562.5" stroke="#a02000" stroke-width="1.1" fill="none"/>
<path d="M551,17.6H552.5L553.5,16.6H554.6L556,17.6H557L558.8,15.6H559.8L561.6,17.6" stroke="#149614" stroke-width="1.1" fill="none"/>
<use href="#dd" x="570.7" y="11.9"/>
<rect x="582" y="0" width="1" height="25" fill="#a0a0a0"/><rect x="583" y="0" width="1" height="25" fill="#fff"/>
<use href="#grip" x="586" y="0"/>
<!-- cursor -->
<use href="#abox" x="592" y="1"/>
<polygon points="600,5.8 600,16.8 602.4,14.9 604.9,19.9 606.9,19.1 604.5,14.2 608,13.6" fill="#484848"/>
<!-- crosshair -->
<path d="M624.9,13.5H631M634,13.5H640M632.5,5.9V12M632.5,15V21" stroke="#484848" stroke-width="1.3"/>
<rect x="649" y="2" width="1" height="21" fill="#a0a0a0"/>
<rect x="665.8" y="6.9" width="1.4" height="13" fill="#484848"/>
<rect x="689" y="12.8" width="12" height="1.4" fill="#484848"/>
<line x1="716.7" y1="19.8" x2="729.1" y2="7.9" stroke="#484848" stroke-width="1.2"/>
<!-- channel -->
<g stroke="#484848" stroke-width="1" fill="none"><line x1="742.8" y1="14.5" x2="751" y2="6.9"/><line x1="743.8" y1="19.2" x2="756" y2="7.9"/><line x1="747.7" y1="19.8" x2="757" y2="11.6"/>
<path d="M745,18.5L746,12.5L749,15.5L750,9.5L753,12.5L754.5,5.5"/></g>
<text x="753.5" y="21.8" font-family="Liberation Sans,sans-serif" font-weight="bold" font-size="6.6" fill="#303030">E</text>
<!-- fibo -->
<g stroke="#484848" stroke-width="1" stroke-dasharray="1,1"><line x1="772" y1="6.6" x2="785.2" y2="6.6"/><line x1="772" y1="9.6" x2="785.2" y2="9.6"/><line x1="772" y1="13.5" x2="785.2" y2="13.5"/><line x1="772" y1="17.5" x2="781" y2="17.5"/></g>
<text x="781.6" y="21.8" font-family="Liberation Sans,sans-serif" font-weight="bold" font-size="6.6" fill="#303030">F</text>
<text x="802.4" y="17.8" font-family="Liberation Sans,sans-serif" font-size="12.2" fill="#505050" stroke="#505050" stroke-width="0.3">A</text>
<rect x="829.4" y="7.3" width="11.2" height="12.2" fill="none" stroke="#484848" stroke-width="1" stroke-dasharray="1,1"/>
<path d="M831,10.6H839M835,10.6V17.8" stroke="#505050" stroke-width="1.5" fill="none"/>
<!-- arrows -->
<polygon points="859.4,6.8 863,10 861.5,11.2 857.3,11.2 855.8,10" fill="#484848"/>
<polygon points="866.7,19.9 863.1,16.7 864.6,15.5 868.8,15.5 870.3,16.7" fill="#484848"/>
<path d="M858.4,14.3L860.6,16.2L864.4,11.6" stroke="#484848" stroke-width="1.2" fill="none"/>
<use href="#dd" x="876.9" y="11.9"/>
<rect x="888" y="0" width="1" height="25" fill="#a0a0a0"/><rect x="889" y="0" width="1" height="25" fill="#fff"/>
<use href="#grip" x="892" y="0"/>
<!-- H4 active -->
<use href="#abox" x="1038" y="1"/>
<rect x="1149" y="2" width="1" height="21" fill="#a0a0a0"/>
<!-- search -->
<line x1="1612.3" y1="17.6" x2="1616.4" y2="13.6" stroke="#2858c8" stroke-width="2.7"/>
<circle cx="1619.5" cy="10.5" r="3.9" fill="#f4f6ff" stroke="#2858c8" stroke-width="1.25"/>
<!-- chat -->
<path d="M1636.4,15a5,4.2 0 0 1 10,0a5,4.2 0 0 1 -5,4.2l-1.8,0l-0.4,2.4l-1.2,-3.1a5,4.2 0 0 1 -1.6,-3.5z" fill="#e4e4ea" stroke="#a8a8a8" stroke-width="0.9"/>
<circle cx="1650.4" cy="10.35" r="8.4" fill="url(#gBadge)"/>
</svg>
<div class="cn" style="left:6.6px">新订单</div>
<div class="cn" style="left:159.2px">自动交易</div>
<div class="tf" style="left:903.6px">M1</div>
<div class="tf" style="left:931.7px">M5</div>
<div class="tf" style="left:957.8px">M15</div>
<div class="tf" style="left:985.6px">M30</div>
<div class="tf" style="left:1016.8px">H1</div>
<div class="tf" style="left:1043.8px">H4</div>
<div class="tf" style="left:1072.6px">D1</div>
<div class="tf" style="left:1100.5px">W1</div>
<div class="tf" style="left:1126.7px">MN</div>
<div style="position:absolute;left:1645.6px;top:3.6px;font-family:'DejaVu Sans',sans-serif;font-size:12px;line-height:14px;color:#fff;-webkit-text-stroke:0.45px #fff">1</div>

</body></html>
